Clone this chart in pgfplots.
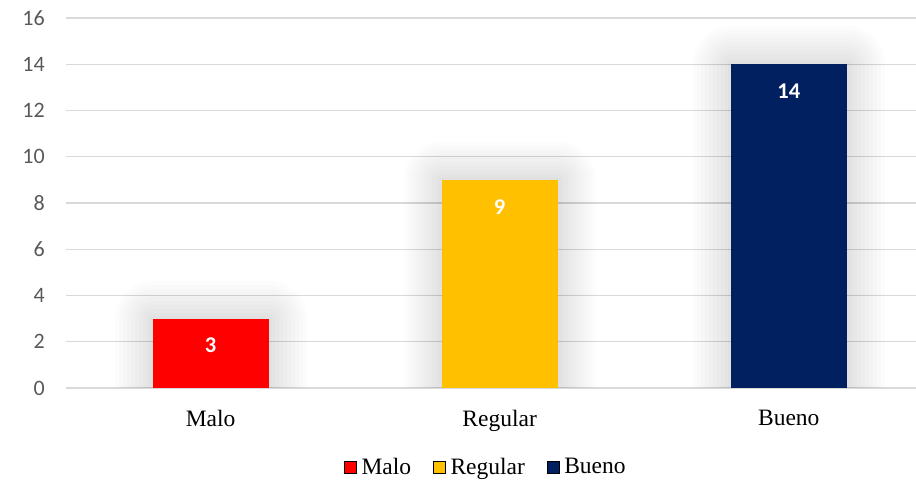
\documentclass[border=0pt]{standalone}
\usepackage{pgfplots}
\pgfplotsset{compat=1.18}
\usepackage{fontspec}
\setmainfont{Liberation Serif}
\newfontfamily\calibri{Carlito}
\definecolor{malo}{HTML}{FF0000}
\definecolor{regular}{HTML}{FFC000}
\definecolor{bueno}{HTML}{002060}
\definecolor{ticktext}{HTML}{595959}
\definecolor{gridc}{HTML}{D9D9D9}
\pgfplotstableread{
x y
0 3
1 9
2 14
}\bardata
\pgfplotsset{glow/.style={draw=black, draw opacity=0.011, fill=none, line width=#1, line join=round, forget plot}}
\begin{document}
\begin{tikzpicture}
\useasboundingbox (0pt,0pt) rectangle (916pt,481pt);
\begin{axis}[
  at={(66pt,93pt)}, anchor=south west,
  scale only axis, width=850pt, height=370pt,
  xmin=-0.5, xmax=2.44, ymin=0, ymax=16,
  ytick={0,2,...,16},
  xtick={0,1,2}, xticklabels={Malo,Regular,Bueno},
  axis line style={draw=none}, tick style={draw=none},
  ymajorgrids, grid style={color=gridc, line width=1.4pt},
  /pgf/number format/assume math mode=true,
  yticklabel style={font=\calibri\fontsize{22}{24}\selectfont, text=ticktext, inner sep=0pt, xshift=-21pt},
  xticklabel style={font=\fontsize{23.5}{26}\selectfont, text=black, inner sep=0pt, yshift=-18pt},
  ybar, bar width=116pt, bar shift=0pt,
  legend image code/.code={\fill[#1] (0pt,-6pt) rectangle (12pt,6pt);},
  legend style={at={(0.494,-0.2135)}, anchor=center, draw=none, legend columns=3,
    font=\fontsize{23.5}{25}\selectfont,
    /tikz/every odd column/.append style={column sep=3pt},
    /tikz/every even column/.append style={column sep=20pt}},
]
\addplot[glow=76pt] table[x=x,y=y] {\bardata};
\addplot[glow=68pt] table[x=x,y=y] {\bardata};
\addplot[glow=60pt] table[x=x,y=y] {\bardata};
\addplot[glow=52pt] table[x=x,y=y] {\bardata};
\addplot[glow=44pt] table[x=x,y=y] {\bardata};
\addplot[glow=36pt] table[x=x,y=y] {\bardata};
\addplot[glow=28pt] table[x=x,y=y] {\bardata};
\addplot[glow=20pt] table[x=x,y=y] {\bardata};
\addplot[glow=12pt] table[x=x,y=y] {\bardata};
\addplot[glow=6pt] table[x=x,y=y] {\bardata};
\addplot[fill=malo, draw=none, forget plot, nodes near coords,
  every node near coord/.append style={font=\calibri\bfseries\fontsize{22.5}{24}\selectfont, text=white, anchor=center, yshift=-27pt}] coordinates {(0,3)};
\addplot[fill=regular, draw=none, forget plot, nodes near coords,
  every node near coord/.append style={font=\calibri\bfseries\fontsize{22.5}{24}\selectfont, text=white, anchor=center, yshift=-27pt}] coordinates {(1,9)};
\addplot[fill=bueno, draw=none, forget plot, nodes near coords,
  every node near coord/.append style={font=\calibri\bfseries\fontsize{22.5}{24}\selectfont, text=white, anchor=center, yshift=-27pt}] coordinates {(2,14)};
\addlegendimage{fill=malo}
\addlegendentry{Malo}
\addlegendimage{fill=regular}
\addlegendentry{Regular}
\addlegendimage{fill=bueno}
\addlegendentry{Bueno}
\end{axis}
\end{tikzpicture}
\end{document}
